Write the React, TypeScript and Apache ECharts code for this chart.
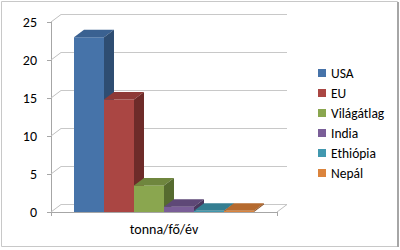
import React, { useEffect, useRef } from "react";
import * as echarts from "echarts";

const categories = ["tonna/fő/év"];
const seriesNames = ["USA", "EU", "Világátlag", "India", "Ethiópia", "Nepál"];
const values = [23.0, 14.8, 3.5, 0.7, 0.15, 0.15];
const yTicks = [0, 5, 10, 15, 20, 25];

const frontColors = ["#4673A9", "#AA4643", "#8AA64F", "#7A5E98", "#4198AF", "#DB843D"];
const topColors = ["#3A6191", "#8E3A37", "#6F863E", "#5E4877", "#347E91", "#B56A2E"];
const sideColors = ["#2E4D72", "#6E2B29", "#566B2F", "#4A385E", "#2A6674", "#8F5324"];

const DX = 10;
const DY = -7.5;
const FONT = "Carlito, Lato, sans-serif";

export default function App() {
  const ref = useRef<HTMLDivElement>(null);
  useEffect(() => {
    if (!ref.current) return;
    const chart = echarts.init(ref.current, undefined, { renderer: "svg" });

    const barSeries = seriesNames.map((name, i) => ({
      name,
      type: "custom",
      xAxisIndex: 0,
      yAxisIndex: 0,
      itemStyle: { color: frontColors[i] },
      z: 3,
      data: [[0, values[i]]],
      renderItem: (params: any, api: any) => {
        const cs = params.coordSys;
        const barW = cs.width * (30 / 226);
        const x0 = cs.x + cs.width / 2 - 3 * barW + i * barW;
        const yTop = api.coord([0, api.value(1)])[1];
        const yBase = api.coord([0, 0])[1];
        const x1 = x0 + barW;
        return {
          type: "group",
          children: [
            {
              type: "polygon",
              shape: { points: [[x0, yTop], [x1, yTop], [x1, yBase], [x0, yBase]] },
              style: { fill: frontColors[i] },
            },
            {
              type: "polygon",
              shape: {
                points: [[x0, yTop], [x0 + DX, yTop + DY], [x1 + DX, yTop + DY], [x1, yTop]],
              },
              style: { fill: topColors[i] },
            },
            {
              type: "polygon",
              shape: {
                points: [[x1, yTop], [x1 + DX, yTop + DY], [x1 + DX, yBase + DY], [x1, yBase]],
              },
              style: { fill: sideColors[i] },
            },
          ],
        };
      },
    }));

    const wallSeries = {
      name: "walls",
      type: "custom",
      xAxisIndex: 0,
      yAxisIndex: 0,
      z: 1,
      silent: true,
      data: yTicks.map((v) => [0, v]),
      renderItem: (params: any, api: any) => {
        const cs = params.coordSys;
        const v = api.value(1);
        const y = api.coord([0, v])[1];
        const children: any[] = [
          {
            type: "line",
            shape: { x1: cs.x, y1: y, x2: cs.x + DX, y2: y + DY },
            style: { stroke: "#BFBFBF", lineWidth: 1 },
          },
        ];
        if (v === 0) {
          const xr = cs.x + cs.width;
          children.push({
            type: "line",
            shape: { x1: xr, y1: y, x2: xr + DX, y2: y + DY },
            style: { stroke: "#BFBFBF", lineWidth: 1 },
          });
        }
        return { type: "group", children };
      },
    };

    chart.setOption({
      animation: false,
      backgroundColor: "#FFFFFF",
      graphic: [
        {
          type: "rect",
          shape: { x: 1.5, y: 1.5, width: 396, height: 245 },
          style: { fill: "none", stroke: "#C8C8C8", lineWidth: 1 },
          z: 0,
        },
        {
          type: "line",
          shape: { x1: 398, y1: 2, x2: 398, y2: 247 },
          style: { stroke: "#A6A6A6", lineWidth: 2 },
        },
      ],
      grid: [
        { left: 51, right: 123, top: 22, bottom: 38 },
        { left: 61, right: 113, top: 14.5, bottom: 45.5 },
      ],
      xAxis: [
        {
          type: "category",
          gridIndex: 0,
          data: categories,
          axisLine: { show: true, lineStyle: { color: "#A6A6A6" } },
          axisTick: { show: true, length: 4, lineStyle: { color: "#A6A6A6" } },
          axisLabel: { color: "#000", fontSize: 14, fontFamily: FONT, margin: 10 },
          splitLine: { show: false },
        },
        {
          type: "category",
          gridIndex: 1,
          data: categories,
          axisLine: { show: false },
          axisTick: { show: false },
          axisLabel: { show: false },
          splitLine: { show: false },
        },
      ],
      yAxis: [
        {
          type: "value",
          gridIndex: 0,
          min: 0,
          max: 25,
          interval: 5,
          axisLine: { show: true, lineStyle: { color: "#A6A6A6" } },
          axisTick: { show: true, length: 4, lineStyle: { color: "#A6A6A6" } },
          axisLabel: { color: "#000", fontSize: 14, fontFamily: FONT, margin: 14 },
          splitLine: { show: false },
        },
        {
          type: "value",
          gridIndex: 1,
          min: 0,
          max: 25,
          interval: 5,
          axisLine: { show: false },
          axisTick: { show: false },
          axisLabel: { show: false },
          splitLine: { show: true, lineStyle: { color: "#C8C8C8", width: 1 } },
        },
      ],
      legend: {
        data: seriesNames,
        orient: "vertical",
        left: 313,
        top: 61,
        itemWidth: 8,
        itemHeight: 8,
        itemGap: 6,
        icon: "rect",
        textStyle: { color: "#000", fontSize: 13.5, fontFamily: FONT, lineHeight: 14 },
      },
      series: [wallSeries, ...barSeries],
    });

    return () => chart.dispose();
  }, []);

  return (
    <div
      ref={ref}
      style={{ position: "absolute", left: 0, top: 0, width: 400, height: 250 }}
    />
  );
}
